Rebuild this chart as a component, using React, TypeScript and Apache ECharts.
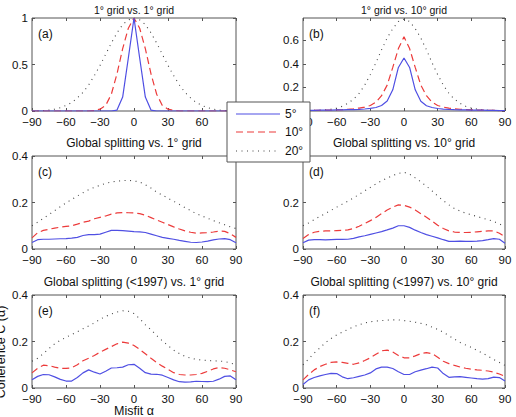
import { useEffect, useRef } from "react";
import * as echarts from "echarts";

// Misfit angle (degrees) shared by every curve
const ANGLES = [
  -90, -85, -80, -75, -70, -65, -60, -55, -50, -45, -40, -35, -30, -25, -20, -15, -10, -5,
  0, 5, 10, 15, 20, 25, 30, 35, 40, 45, 50, 55, 60, 65, 70, 75, 80, 85, 90,
];

// (a) 1° grid vs. 1° grid
const A5 = [0, 0, 0, 0, 0, 0, 0, 0, 0, 0, 0, 0, 0, 0, 0, 0.01, 0.15, 0.57, 1, 0.57, 0.15, 0.01, 0, 0, 0, 0, 0, 0, 0, 0, 0, 0, 0, 0, 0, 0, 0];
const A10 = [0, 0, 0, 0, 0, 0, 0, 0, 0, 0, 0, 0.005, 0.02, 0.06, 0.18, 0.4, 0.67, 0.89, 1, 0.89, 0.67, 0.4, 0.18, 0.06, 0.02, 0.005, 0, 0, 0, 0, 0, 0, 0, 0, 0, 0, 0];
const A20 = [0, 0, 0.005, 0.01, 0.02, 0.035, 0.06, 0.09, 0.14, 0.2, 0.28, 0.38, 0.49, 0.61, 0.73, 0.84, 0.93, 0.98, 1, 0.98, 0.93, 0.84, 0.73, 0.61, 0.49, 0.38, 0.28, 0.2, 0.14, 0.09, 0.06, 0.035, 0.02, 0.01, 0.005, 0, 0];

// (b) 1° grid vs. 10° grid
const B5 = [0.004, 0.005, 0.006, 0.007, 0.007, 0.008, 0.009, 0.01, 0.011, 0.012, 0.014, 0.017, 0.022, 0.03, 0.047, 0.085, 0.18, 0.37, 0.45, 0.37, 0.18, 0.082, 0.045, 0.03, 0.021, 0.016, 0.013, 0.011, 0.01, 0.009, 0.008, 0.008, 0.007, 0.006, 0.005, 0.004, 0.003];
const B10 = [0.003, 0.004, 0.005, 0.006, 0.007, 0.008, 0.01, 0.012, 0.015, 0.019, 0.025, 0.033, 0.047, 0.075, 0.13, 0.22, 0.37, 0.53, 0.63, 0.53, 0.37, 0.22, 0.13, 0.075, 0.047, 0.033, 0.025, 0.019, 0.015, 0.012, 0.01, 0.008, 0.007, 0.006, 0.005, 0.004, 0.003];
const B20 = [0.002, 0.003, 0.005, 0.007, 0.01, 0.016, 0.025, 0.04, 0.065, 0.1, 0.15, 0.22, 0.31, 0.41, 0.52, 0.62, 0.7, 0.76, 0.78, 0.76, 0.7, 0.62, 0.52, 0.41, 0.31, 0.22, 0.15, 0.1, 0.065, 0.04, 0.025, 0.016, 0.01, 0.007, 0.005, 0.003, 0.002];

// (c) Global splitting vs. 1° grid
const C5 = [0.028, 0.04, 0.042, 0.042, 0.043, 0.044, 0.045, 0.047, 0.05, 0.058, 0.062, 0.062, 0.064, 0.072, 0.08, 0.08, 0.079, 0.077, 0.075, 0.074, 0.071, 0.064, 0.057, 0.05, 0.046, 0.042, 0.037, 0.033, 0.029, 0.028, 0.03, 0.034, 0.039, 0.043, 0.045, 0.04, 0.027];
const C10 = [0.048, 0.07, 0.08, 0.085, 0.09, 0.094, 0.097, 0.1, 0.107, 0.115, 0.12, 0.13, 0.136, 0.142, 0.15, 0.155, 0.157, 0.156, 0.155, 0.152, 0.145, 0.135, 0.125, 0.115, 0.105, 0.095, 0.086, 0.078, 0.072, 0.068, 0.069, 0.07, 0.073, 0.077, 0.076, 0.066, 0.05];
const C20 = [0.1, 0.115, 0.132, 0.148, 0.165, 0.182, 0.198, 0.213, 0.228, 0.242, 0.255, 0.265, 0.274, 0.282, 0.288, 0.292, 0.294, 0.295, 0.293, 0.288, 0.276, 0.262, 0.245, 0.232, 0.218, 0.205, 0.192, 0.178, 0.165, 0.152, 0.142, 0.132, 0.122, 0.113, 0.104, 0.095, 0.088];

// (d) Global splitting vs. 10° grid
const D5 = [0.027, 0.038, 0.04, 0.04, 0.039, 0.04, 0.041, 0.041, 0.042, 0.046, 0.052, 0.057, 0.063, 0.069, 0.075, 0.082, 0.09, 0.1, 0.1, 0.093, 0.081, 0.071, 0.062, 0.055, 0.048, 0.04, 0.033, 0.033, 0.034, 0.033, 0.033, 0.034, 0.036, 0.04, 0.045, 0.042, 0.025];
const D10 = [0.045, 0.062, 0.072, 0.076, 0.078, 0.078, 0.079, 0.08, 0.082, 0.088, 0.098, 0.11, 0.122, 0.136, 0.152, 0.168, 0.18, 0.19, 0.188, 0.18, 0.168, 0.152, 0.137, 0.12, 0.102, 0.088, 0.078, 0.073, 0.071, 0.071, 0.072, 0.074, 0.076, 0.078, 0.078, 0.068, 0.052];
const D20 = [0.1, 0.112, 0.126, 0.14, 0.153, 0.166, 0.18, 0.193, 0.206, 0.22, 0.235, 0.25, 0.265, 0.28, 0.293, 0.305, 0.316, 0.325, 0.33, 0.322, 0.306, 0.289, 0.27, 0.25, 0.228, 0.208, 0.19, 0.174, 0.163, 0.154, 0.147, 0.14, 0.133, 0.126, 0.118, 0.108, 0.097];

// (e) Global splitting (<1997) vs. 1° grid
const E5 = [0.035, 0.05, 0.058, 0.057, 0.048, 0.037, 0.03, 0.03, 0.045, 0.065, 0.078, 0.068, 0.06, 0.072, 0.086, 0.087, 0.09, 0.1, 0.102, 0.085, 0.066, 0.06, 0.059, 0.055, 0.045, 0.035, 0.027, 0.025, 0.026, 0.029, 0.028, 0.027, 0.029, 0.038, 0.05, 0.052, 0.035];
const E10 = [0.065, 0.085, 0.098, 0.096, 0.09, 0.085, 0.084, 0.087, 0.1, 0.117, 0.128, 0.14, 0.154, 0.166, 0.178, 0.19, 0.197, 0.193, 0.183, 0.166, 0.147, 0.128, 0.11, 0.094, 0.08, 0.066, 0.058, 0.056, 0.056, 0.058, 0.063, 0.072, 0.082, 0.088, 0.085, 0.078, 0.07];
const E20 = [0.115, 0.128, 0.148, 0.17, 0.19, 0.205, 0.218, 0.23, 0.242, 0.255, 0.267, 0.28, 0.295, 0.308, 0.318, 0.327, 0.332, 0.33, 0.32, 0.298, 0.272, 0.25, 0.226, 0.203, 0.182, 0.163, 0.148, 0.136, 0.128, 0.123, 0.12, 0.118, 0.117, 0.116, 0.114, 0.108, 0.1];

// (f) Global splitting (<1997) vs. 10° grid
const F5 = [0.015, 0.035, 0.045, 0.052, 0.058, 0.063, 0.062, 0.048, 0.04, 0.044, 0.05, 0.056, 0.065, 0.082, 0.09, 0.09, 0.084, 0.07, 0.058, 0.058, 0.07, 0.077, 0.083, 0.09, 0.086, 0.062, 0.046, 0.048, 0.049, 0.046, 0.043, 0.04, 0.038, 0.04, 0.047, 0.045, 0.03];
const F10 = [0.035, 0.058, 0.078, 0.092, 0.102, 0.11, 0.112, 0.11, 0.106, 0.102, 0.108, 0.118, 0.13, 0.145, 0.16, 0.163, 0.155, 0.14, 0.13, 0.13, 0.138, 0.148, 0.152, 0.148, 0.132, 0.115, 0.105, 0.097, 0.09, 0.085, 0.081, 0.078, 0.076, 0.073, 0.068, 0.06, 0.05];
const F20 = [0.1, 0.125, 0.15, 0.172, 0.195, 0.213, 0.228, 0.24, 0.252, 0.263, 0.272, 0.28, 0.285, 0.288, 0.29, 0.292, 0.293, 0.293, 0.29, 0.287, 0.283, 0.278, 0.272, 0.262, 0.252, 0.24, 0.225, 0.21, 0.196, 0.185, 0.175, 0.162, 0.15, 0.136, 0.122, 0.11, 0.097];

const SERIES_NAMES = ["5°", "10°", "20°"];
const X_TICKS = { min: -90, max: 90, step: 30 };

const PANELS = [
  { tag: "(a)", title: "1° grid vs. 1° grid", curves: [A5, A10, A20], yMax: 1, yStep: 0.5 },
  { tag: "(b)", title: "1° grid vs. 10° grid", curves: [B5, B10, B20], yMax: 0.79, yStep: 0.2 },
  { tag: "(c)", title: "Global splitting vs. 1° grid", curves: [C5, C10, C20], yMax: 0.4, yStep: 0.2 },
  { tag: "(d)", title: "Global splitting vs. 10° grid", curves: [D5, D10, D20], yMax: 0.4, yStep: 0.2 },
  { tag: "(e)", title: "Global splitting (<1997) vs. 1° grid", curves: [E5, E10, E20], yMax: 0.4, yStep: 0.2 },
  { tag: "(f)", title: "Global splitting (<1997) vs. 10° grid", curves: [F5, F10, F20], yMax: 0.4, yStep: 0.2 },
];

const FONT = "'Liberation Sans', Arial, Helvetica, sans-serif";
const FRAME = "#555";
const COL_LEFT = [32, 303];
const COL_WIDTH = [204, 202];
const ROW_TOP = [18, 156, 295];
const ROW_HEIGHT = 93;

const LINE_STYLES = [
  { color: "#4f4fe3", width: 1.2, type: "solid" as any, dash: null as any },
  { color: "#ec3b3b", width: 1.2, type: [7, 4] as any, dash: [7, 4] },
  { color: "#444444", width: 1.1, type: [1, 4.5] as any, dash: [1, 4.5] },
];

export default function App() {
  const ref = useRef<HTMLDivElement>(null);

  useEffect(() => {
    if (!ref.current) return;
    const chart = echarts.init(ref.current, undefined, { renderer: "svg" });

    const grids: any[] = [];
    const xAxes: any[] = [];
    const yAxes: any[] = [];
    const series: any[] = [];
    const graphics: any[] = [];

    const tickStyle = { show: true, inside: true, length: 3, lineStyle: { color: FRAME, width: 1 } };
    const hiddenLine = { show: false, onZero: false };
    const minusFmt = (v: number) => String(v).replace("-", "\u2212");

    PANELS.forEach((p, i) => {
      const col = i % 2;
      const row = Math.floor(i / 2);
      const left = COL_LEFT[col];
      const top = ROW_TOP[row];
      const width = COL_WIDTH[col];
      grids.push({
        left, top, width, height: ROW_HEIGHT,
        show: true, borderColor: FRAME, borderWidth: 1, backgroundColor: "transparent",
      });

      const titleSize = row === 0 ? 10.5 : 12;
      graphics.push({
        type: "text", x: left + width / 2, y: row === 0 ? top - 8 : top - 13,
        style: { text: p.title, font: `${titleSize}px ${FONT}`, fill: "#111", align: "center", verticalAlign: "middle" },
      });
      graphics.push({
        type: "text", x: left + 6, y: top + 16,
        style: { text: p.tag, font: `12px ${FONT}`, fill: "#111", align: "left", verticalAlign: "middle" },
      });
    });

    // bottom / left axes with labels
    PANELS.forEach((p, i) => {
      xAxes.push({
        gridIndex: i, type: "value", position: "bottom",
        min: X_TICKS.min, max: X_TICKS.max, interval: X_TICKS.step,
        axisLine: hiddenLine, axisTick: tickStyle, splitLine: { show: false },
        axisLabel: { fontSize: 11.5, fontFamily: FONT, color: "#111", margin: 5, formatter: minusFmt },
      });
      yAxes.push({
        gridIndex: i, type: "value", position: "left",
        min: 0, max: p.yMax, interval: p.yStep,
        axisLine: hiddenLine, axisTick: tickStyle, splitLine: { show: false },
        axisLabel: {
          fontSize: 11.5, fontFamily: FONT, color: "#111", margin: 4,
          showMaxLabel: i === 1 ? false : true,
        },
      });
    });
    // top / right axes: ticks only
    PANELS.forEach((p, i) => {
      xAxes.push({
        gridIndex: i, type: "value", position: "top",
        min: X_TICKS.min, max: X_TICKS.max, interval: X_TICKS.step,
        axisLine: hiddenLine, axisTick: tickStyle, splitLine: { show: false },
        axisLabel: { show: false },
      });
      yAxes.push({
        gridIndex: i, type: "value", position: "right",
        min: 0, max: p.yMax, interval: p.yStep,
        axisLine: hiddenLine, axisTick: tickStyle, splitLine: { show: false },
        axisLabel: { show: false },
      });
    });

    PANELS.forEach((p, i) => {
      [2, 1, 0].forEach((k) => {
        const ls = LINE_STYLES[k];
        series.push({
          type: "line",
          name: SERIES_NAMES[k],
          xAxisIndex: i,
          yAxisIndex: i,
          data: ANGLES.map((a, j) => [a, p.curves[k][j]]),
          symbol: "none",
          showSymbol: false,
          smooth: false,
          lineStyle: { color: ls.color, width: ls.width, type: ls.type },
          itemStyle: { color: ls.color },
          z: 3 + (2 - k),
        });
      });
    });

    graphics.push({
      type: "text", x: COL_LEFT[0] + COL_WIDTH[0] / 2, y: 411,
      style: { text: "Misfit α", font: `12.5px ${FONT}`, fill: "#111", align: "center", verticalAlign: "middle" },
    });
    graphics.push({
      type: "text", x: 1, y: 352, rotation: Math.PI / 2,
      style: { text: "Coherence C (α)", font: `12.5px ${FONT}`, fill: "#111", align: "center", verticalAlign: "middle" },
    });

    // legend box shared by all panels, drawn above every axis label
    const LX = 227;
    const LY = 102;
    const legendRows = [12, 30, 49];
    graphics.push({
      type: "rect", z: 100, zlevel: 1,
      shape: { x: LX, y: LY, width: 83, height: 60 },
      style: { fill: "#fff", stroke: FRAME, lineWidth: 1 },
    });
    SERIES_NAMES.forEach((name, k) => {
      const ls = LINE_STYLES[k];
      graphics.push({
        type: "line", z: 101, zlevel: 1,
        shape: { x1: LX + 9, y1: LY + legendRows[k], x2: LX + 53, y2: LY + legendRows[k] },
        style: { stroke: ls.color, lineWidth: ls.width, lineDash: ls.dash },
      });
      graphics.push({
        type: "text", z: 101, zlevel: 1, x: LX + 58, y: LY + legendRows[k],
        style: { text: name, font: `12px ${FONT}`, fill: "#111", align: "left", verticalAlign: "middle" },
      });
    });

    chart.setOption({
      animation: false,
      backgroundColor: "#fff",
      grid: grids,
      xAxis: xAxes,
      yAxis: yAxes,
      series,
      graphic: graphics,
    });

    return () => chart.dispose();
  }, []);

  return (
    <div
      ref={ref}
      style={{ position: "fixed", left: 0, top: 0, width: 516, height: 417, background: "#fff" }}
    />
  );
}
